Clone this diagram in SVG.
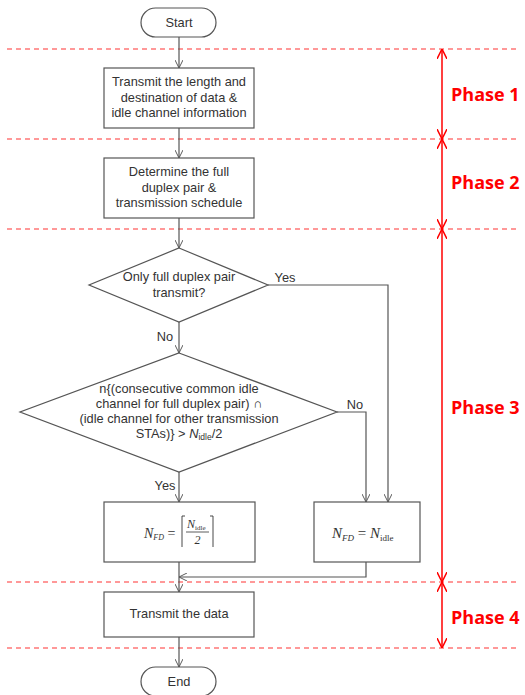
<svg xmlns="http://www.w3.org/2000/svg" width="525" height="695" viewBox="0 0 525 695">
<style>
.n{fill:#fff;stroke:#555;stroke-width:1.2}
.t{font-family:"Liberation Sans",Arial,sans-serif;font-size:12.8px;fill:#333;text-anchor:middle}
.c{fill:none;stroke:#555;stroke-width:1.2}
.d{stroke:#f33;stroke-width:1.2;stroke-dasharray:5,4}
.p{stroke:#f00;stroke-width:1.5;fill:none}
.ph{font-family:"Open Sans","Liberation Sans",sans-serif;font-size:18px;font-weight:bold;fill:#f00}
.m{font-family:"Liberation Serif",serif;fill:#333;font-style:italic}
</style>
<defs>
<marker id="a" viewBox="0 0 10 10" refX="10" refY="5" markerWidth="8" markerHeight="8" orient="auto" markerUnits="userSpaceOnUse"><path d="M0,0L10,5L0,10" fill="none" stroke="#555" stroke-width="1.2"/></marker>
<marker id="r" viewBox="0 0 10 10" refX="10" refY="5" markerWidth="10" markerHeight="10" orient="auto-start-reverse" markerUnits="userSpaceOnUse"><path d="M0,0L10,5L0,10" fill="none" stroke="#f00" stroke-width="1.5"/></marker>
</defs>
<g id="phases">
<line class="d" x1="7" y1="49" x2="518" y2="49"/>
<line class="d" x1="7" y1="139" x2="518" y2="139"/>
<line class="d" x1="7" y1="229" x2="518" y2="229"/>
<line class="d" x1="7" y1="582" x2="518" y2="582"/>
<line class="d" x1="7" y1="648" x2="518" y2="648"/>
<line class="p" x1="442" y1="49" x2="442" y2="139" marker-start="url(#r)" marker-end="url(#r)"/>
<line class="p" x1="442" y1="139" x2="442" y2="229" marker-start="url(#r)" marker-end="url(#r)"/>
<line class="p" x1="442" y1="229" x2="442" y2="582" marker-start="url(#r)" marker-end="url(#r)"/>
<line class="p" x1="442" y1="582" x2="442" y2="648" marker-start="url(#r)" marker-end="url(#r)"/>
<text class="ph" x="451" y="101">Phase 1</text>
<text class="ph" x="451" y="189">Phase 2</text>
<text class="ph" x="451" y="414">Phase 3</text>
<text class="ph" x="451" y="624">Phase 4</text>
</g>
<g id="connectors">
<line class="c" x1="179" y1="37" x2="179" y2="68" marker-end="url(#a)"/>
<line class="c" x1="179" y1="128" x2="179" y2="158" marker-end="url(#a)"/>
<line class="c" x1="179" y1="218" x2="179" y2="248" marker-end="url(#a)"/>
<line class="c" x1="179" y1="322" x2="179" y2="353" marker-end="url(#a)"/>
<polyline class="c" points="268,285 388,285 388,502" marker-end="url(#a)"/>
<polyline class="c" points="337,412 366,412 366,502" marker-end="url(#a)"/>
<line class="c" x1="179" y1="472" x2="179" y2="502" marker-end="url(#a)"/>
<polyline class="c" points="366,562 366,577 179,577" marker-end="url(#a)"/>
<line class="c" x1="179" y1="562" x2="179" y2="592" marker-end="url(#a)"/>
<line class="c" x1="179" y1="637" x2="179" y2="667" marker-end="url(#a)"/>
<text class="t" x="285" y="282">Yes</text>
<text class="t" x="165" y="341">No</text>
<text class="t" x="355" y="409">No</text>
<text class="t" x="165" y="490">Yes</text>
</g>
<g id="start">
<rect class="n" x="141" y="8" width="75" height="29" rx="14.5"/>
<text class="t" x="179" y="27">Start</text>
</g>
<g id="phase1box">
<rect class="n" x="104" y="68" width="150" height="60"/>
<text class="t" x="179" y="86">Transmit the length and</text>
<text class="t" x="179" y="101.5">destination of data &amp;</text>
<text class="t" x="179" y="117">idle channel information</text>
</g>
<g id="phase2box">
<rect class="n" x="104" y="158" width="150" height="60"/>
<text class="t" x="179" y="176">Determine the full</text>
<text class="t" x="179" y="191.5">duplex pair &amp;</text>
<text class="t" x="179" y="207">transmission schedule</text>
</g>
<g id="decision1">
<polygon class="n" points="179,248 268,285 179,322 89,285"/>
<text class="t" x="179" y="281">Only full duplex pair</text>
<text class="t" x="179" y="297">transmit?</text>
</g>
<g id="decision2">
<polygon class="n" points="179,353 337,412 179,472 20,412"/>
<text class="t" x="179" y="393">n{(consecutive common idle</text>
<text class="t" x="179" y="408">channel for full duplex pair) ∩</text>
<text class="t" x="179" y="423">(idle channel for other transmission</text>
<text class="t" x="179" y="438">STAs)} &gt;  <tspan font-style="italic">N</tspan><tspan font-size="8.5" dy="2">idle</tspan><tspan dy="-2">/2</tspan></text>
</g>
<g id="boxHalf">
<rect class="n" x="104" y="502" width="151" height="60"/>
<text class="m" x="144" y="538" font-size="14">N<tspan font-size="8" dy="2">FD</tspan><tspan dy="-2" font-style="normal"> = </tspan></text>
<path d="M182,547 V516 h3 M213,547 V516 h-3" fill="none" stroke="#333" stroke-width="0.9"/>
<text class="m" x="187" y="528" font-size="12">N<tspan font-size="7" dy="2" font-style="normal">idle</tspan></text>
<line x1="186" y1="532" x2="209" y2="532" stroke="#333" stroke-width="0.8"/>
<text class="m" x="197.5" y="544" font-size="12" font-style="normal" text-anchor="middle">2</text>
</g>
<g id="boxFull">
<rect class="n" x="314" y="502" width="106" height="60"/>
<text class="m" x="332" y="538" font-size="15">N<tspan font-size="9" dy="3">FD</tspan><tspan dy="-3" font-style="normal"> = </tspan>N<tspan font-size="9" dy="3" font-style="normal">idle</tspan></text>
</g>
<g id="transmit">
<rect class="n" x="104" y="592" width="150" height="45"/>
<text class="t" x="179" y="618">Transmit the data</text>
</g>
<g id="end">
<rect class="n" x="141" y="667" width="75" height="29" rx="14.5"/>
<text class="t" x="179" y="686">End</text>
</g>
</svg>
